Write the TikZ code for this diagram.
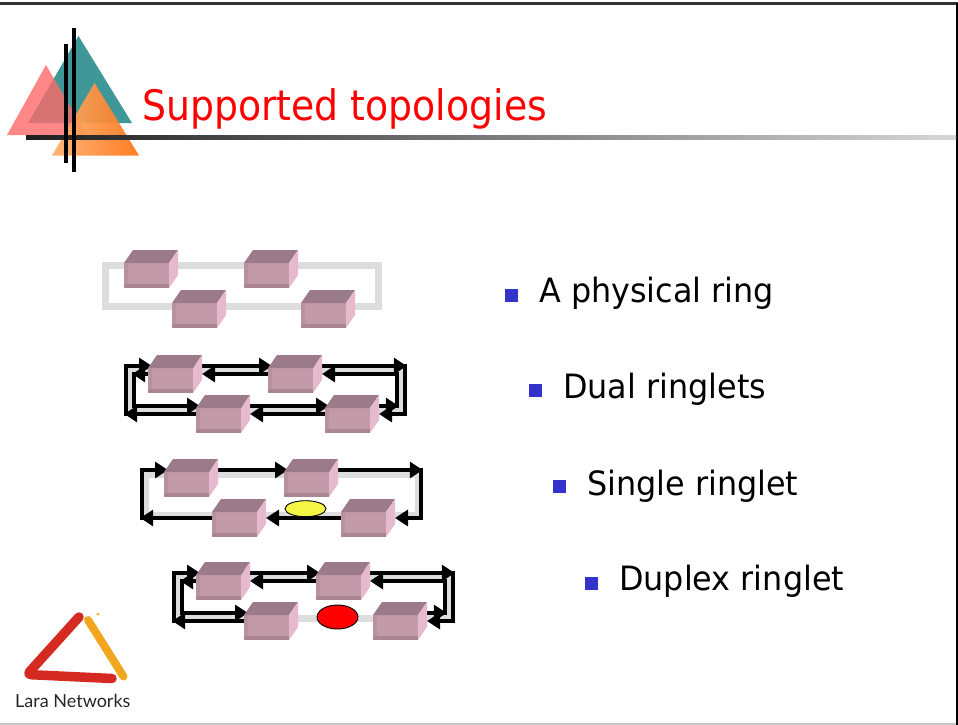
\documentclass[tikz,border=0pt]{standalone}
\usepackage{fontspec}
\newfontfamily\titlefont[FakeStretch=0.9]{DejaVu Sans}
\newfontfamily\bodyfont[FakeStretch=0.95]{DejaVu Sans}
\newfontfamily\logofont{Lato}
\usetikzlibrary{calc,arrows.meta,shapes.geometric}
\pgfdeclarelayer{paper}
\pgfdeclarelayer{ring}
\pgfdeclarelayer{links}
\pgfsetlayers{paper,ring,links,main}

\definecolor{titlered}{HTML}{FF0000}
\definecolor{bulletblue}{HTML}{3333CC}
\definecolor{ringgray}{HTML}{DDDDDD}
\definecolor{boxfrontc}{HTML}{C29AA8}
\definecolor{boxtopc}{HTML}{9B7B89}
\definecolor{boxsidec}{HTML}{E6B9CD}
\definecolor{boxedgec}{HTML}{B8909E}
\definecolor{boxbasec}{HTML}{AA8593}
\definecolor{tealc}{HTML}{3F9797}
\definecolor{pinkc}{HTML}{FF6A6A}
\definecolor{orangeL}{HTML}{FFB070}
\definecolor{orangeR}{HTML}{FF7414}
\definecolor{logored}{HTML}{D42A22}
\definecolor{logoorange}{HTML}{F2A61E}
\definecolor{logogray}{HTML}{262626}
\definecolor{framedark}{HTML}{333333}
\definecolor{ellyellow}{HTML}{F5F545}

\tikzset{
  boxfront/.style={rectangle, anchor=north west, minimum width=45pt,
    minimum height=25pt, inner sep=0pt, outer sep=0pt, fill=boxfrontc},
  ringband/.style={line width=7pt, draw=ringgray},
  link/.style={line width=3.6pt, draw=black, line join=miter,
    -{Triangle[length=13pt,width=16pt]}},
  bulletsq/.style={rectangle, fill=bulletblue, minimum size=13pt, inner sep=0pt},
  itemtext/.style={anchor=base west, inner sep=0pt,
    font=\bodyfont\fontsize{33.5}{40}\selectfont},
  breakmark/.style={ellipse, draw=black, line width=0.9pt, inner sep=0pt,
    minimum width=41pt},
}

% one station: front face node plus top and side faces
\newcommand\netbox[2]{%
  \node[boxfront] (#1) at #2 {};
  \fill[boxtopc] (#1.north west) -- ++(9,-13) -- ++(45,0) -- (#1.north east) -- cycle;
  \fill[boxsidec] (#1.north east) -- ++(9,-13) -- ++(0,25) -- (#1.south east) -- cycle;
  \fill[boxedgec] (#1.north west) rectangle ([xshift=4pt]#1.south west);
  \fill[boxbasec] ([yshift=4pt]#1.south west) rectangle (#1.south east);
}

% four stations on a physical ring; #1 row id, (#2,#3) front corner of the first one
\newcommand\ringrow[3]{%
  \coordinate (o#1) at (#2,#3);
  \netbox{a#1}{(o#1)}
  \netbox{b#1}{($(o#1)+(120,0)$)}
  \netbox{c#1}{($(o#1)+(48,40)$)}
  \netbox{d#1}{($(o#1)+(177,40)$)}
  \coordinate (otl#1) at ($(a#1.north west)+(-22,-2)$);
  \coordinate (otr#1) at ($(a#1.north west)+(257,-2)$);
  \coordinate (obr#1) at ($(a#1.north west)+(257,46)$);
  \coordinate (obl#1) at ($(a#1.north west)+(-22,46)$);
  \coordinate (itl#1) at ($(a#1.north west)+(-14,6)$);
  \coordinate (itr#1) at ($(a#1.north west)+(249,6)$);
  \coordinate (ibr#1) at ($(a#1.north west)+(249,38)$);
  \coordinate (ibl#1) at ($(a#1.north west)+(-14,38)$);
  \begin{pgfonlayer}{ring}
    \draw[ringband] ($(a#1.north west)+(-18.5,2.5)$) rectangle ($(a#1.north west)+(254.5,43.5)$);
  \end{pgfonlayer}
}

% clockwise ringlet
\newcommand\outerlinks[1]{%
  \begin{pgfonlayer}{links}
  \draw[link] ($(obl#1)+(0,1.8)$) -- (otl#1) -- ($(a#1.north west)+(4,-2)$);
  \draw[link] ($(a#1.north east)+(0,-2)$) -- ($(b#1.north west)+(4,-2)$);
  \draw[link] ($(b#1.north east)+(0,-2)$) -- ($(otr#1)+(1.8,0)$);
  \draw[link] ($(otr#1)+(0,-1.8)$) -- (obr#1) -- ($(d#1.north east)+(9,6)$);
  \draw[link] ($(c#1.north west)+(0,6)$) -- ($(obl#1)+(-1.8,0)$);
  \end{pgfonlayer}
}
\newcommand\outerbridge[1]{%
  \begin{pgfonlayer}{links}
  \draw[link] ($(d#1.north west)+(0,6)$) -- ($(c#1.north east)+(9,6)$);
  \end{pgfonlayer}
}
% counter-clockwise ringlet
\newcommand\innerlinks[1]{%
  \begin{pgfonlayer}{links}
  \draw[link] ($(b#1.north west)+(0,6)$) -- ($(a#1.north east)+(9,6)$);
  \draw[link] ($(a#1.north west)+(0,6)$) -- ($(itl#1)+(-1.8,0)$);
  \draw[link] ($(itl#1)+(0,-1.8)$) -- (ibl#1) -- ($(c#1.north west)+(4,-2)$);
  \draw[link] ($(d#1.north east)+(9,-2)$) -- ($(ibr#1)+(1.8,0)$);
  \draw[link] ($(ibr#1)+(0,1.8)$) -- (itr#1) -- ($(b#1.north east)+(9,6)$);
  \end{pgfonlayer}
}
\newcommand\innerbridge[1]{%
  \begin{pgfonlayer}{links}
  \draw[link] ($(c#1.north east)+(0,-2)$) -- ($(d#1.north west)+(4,-2)$);
  \end{pgfonlayer}
}

\begin{document}
\begin{tikzpicture}[x=1pt,y=-1pt]
\useasboundingbox (0,0) rectangle (958,725);
\begin{pgfonlayer}{paper}
  \fill[white] (0,0) rectangle (958,725);
\end{pgfonlayer}

% slide frame
\draw[line width=3pt, framedark] (0,3.5) -- (958,3.5);
\draw[line width=2pt, black] (957,3.5) -- (957,725);
\draw[line width=1.5pt, black!22] (0,724) -- (956,724);

% title decoration
\fill[tealc] (28,123) -- (78.5,36) -- (132,123) -- cycle;
\fill[pinkc, opacity=0.8] (7,135) -- (46,65) -- (87,135) -- cycle;
\shade[left color=orangeL, right color=orangeR, opacity=0.93] (52,155.5) -- (94.5,83) -- (139,155.5) -- cycle;
\shade[left color=black!88, right color=black!16] (26,135.7) rectangle (956,139.5);
\fill[black] (64.2,44) rectangle (68,163);
\fill[black] (72.2,28) rectangle (76,172);

\node[anchor=base west, inner sep=0pt, text=titlered,
  font=\titlefont\fontsize{42}{50}\selectfont] (title) at (142,120.5) {Supported topologies};

% topologies
\ringrow{1}{124}{263}

\ringrow{2}{148}{368}
\outerlinks{2}\outerbridge{2}
\innerlinks{2}\innerbridge{2}

\ringrow{3}{164}{472}
\outerlinks{3}\outerbridge{3}
\node[breakmark, fill=ellyellow, minimum height=16pt] (cut3) at ($(c3.north west)+(93.5,-3.3)$) {};

\ringrow{4}{196}{575}
\outerlinks{4}
\innerlinks{4}
\node[breakmark, fill=red, minimum height=24pt] (cut4) at ($(c4.north west)+(93.5,2)$) {};

% bullet list
\node[bulletsq] (m1) at (511.5,295) {};
\node[itemtext] (t1) at (539,302.7) {A physical ring};
\node[bulletsq] (m2) at (535,390.7) {};
\node[itemtext] (t2) at (563,398.3) {Dual ringlets};
\node[bulletsq] (m3) at (559.4,486.7) {};
\node[itemtext] (t3) at (587,495) {Single ringlet};
\node[bulletsq] (m4) at (591.7,583) {};
\node[itemtext] (t4) at (619,590.7) {Duplex ringlet};

% logo
\draw[logored, line width=9.5pt, line cap=round, line join=round, rounded corners=4pt]
  (79,617) -- (27,674.5) -- (112,678.5);
\draw[logoorange, line width=8pt, line cap=round] (88,620) -- (123.5,676.5);
\fill[logoorange] (98,614) circle (1.5);
\node[anchor=base west, inner sep=0pt, text=logogray,
  font=\logofont\fontsize{18}{21}\selectfont] (logo) at (15,707) {Lara Networks};
\end{tikzpicture}
\end{document}
